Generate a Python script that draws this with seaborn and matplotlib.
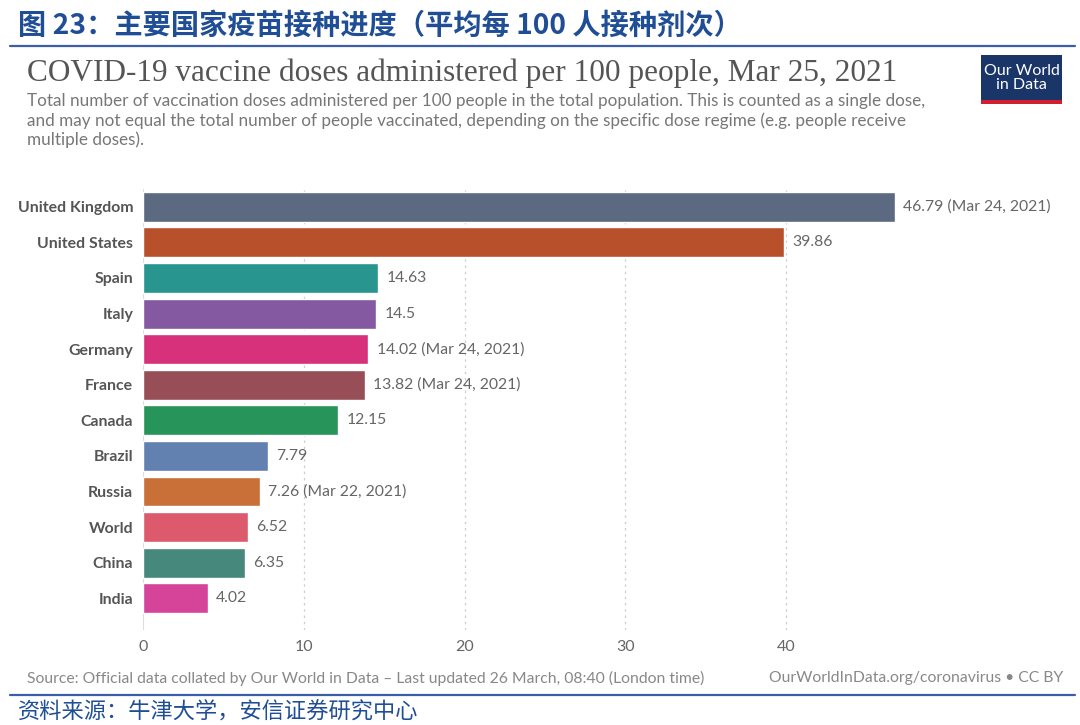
import matplotlib
matplotlib.use("Agg")
import matplotlib.pyplot as plt
import seaborn as sns
import pandas as pd
from matplotlib.patches import Rectangle
from matplotlib.lines import Line2D

countries = ["United Kingdom", "United States", "Spain", "Italy", "Germany", "France",
             "Canada", "Brazil", "Russia", "World", "China", "India"]
doses = [46.79, 39.86, 14.63, 14.5, 14.02, 13.82, 12.15, 7.79, 7.26, 6.52, 6.35, 4.02]
date_notes = ["(Mar 24, 2021)", "", "", "", "(Mar 24, 2021)", "(Mar 24, 2021)",
              "", "", "(Mar 22, 2021)", "", "", ""]
colors = ["#5b6a80", "#b9502c", "#28958f", "#8559a1", "#d6317a", "#984e56",
          "#27955a", "#6281b1", "#c96f38", "#dd5a6c", "#46887b", "#d6449a"]
x_ticks = [0, 10, 20, 30, 40]

df = pd.DataFrame({"country": countries, "doses": doses})
palette = dict(zip(countries, colors))

sns.set_theme(style="white")
plt.rcParams["font.family"] = ["Lato", "DejaVu Sans"]

fig = plt.figure(figsize=(10.8, 7.25), dpi=100)
W, H = 1080, 725
left = 143 / W
width = 160.75 * 5 / W
top_px, bot_px = 189, 630
ax = fig.add_axes([left, 1 - bot_px / H, width, (bot_px - top_px) / H])

sns.barplot(data=df, y="country", x="doses", hue="country", palette=palette,
            dodge=False, legend=False, ax=ax, width=0.84, saturation=1, orient="h")

ax.set_xlim(0, 50)
ax.set_ylim(11.89, -0.5)
for s in ax.spines.values():
    s.set_visible(False)
ax.set_xlabel("")
ax.set_ylabel("")
ax.set_xticks(x_ticks)
ax.set_xticklabels([str(t) for t in x_ticks], color="#666666", fontsize=11.5)
ax.tick_params(axis="x", length=0, pad=7)
for t in x_ticks[1:]:
    ax.axvline(t, color="#cfcfcf", lw=0.9, ls=(0, (2, 3)), zorder=0)
ax.axvline(0, color="#dddddd", lw=0.8, zorder=0)
ax.tick_params(axis="y", length=0, pad=7)
for lab in ax.get_yticklabels():
    lab.set_fontweight("bold")
    lab.set_color("#555555")
    lab.set_fontsize(11.4)

for i, (v, note) in enumerate(zip(doses, date_notes)):
    txt = f"{v:g}" + (f" {note}" if note else "")
    ax.annotate(txt, (v, i), xytext=(6, 0), textcoords="offset points",
                va="center", ha="left", fontsize=11.3, color="#666666", clip_on=False)

# Chinese header
fig.text(18 / W, 1 - 26 / H, "图 23：主要国家疫苗接种进度（平均每 100 人接种剂次）",
         fontsize=20.3, fontweight="bold", color="#1f4e96", va="center", ha="left",
         family=["Noto Sans CJK SC", "DejaVu Sans"])
fig.add_artist(Line2D([10 / W, 1075 / W], [1 - 46 / H, 1 - 46 / H], color="#3a5ea8", lw=1.6))

# chart title
fig.text(27 / W, 1 - 73 / H, "COVID-19 vaccine doses administered per 100 people, Mar 25, 2021",
         fontsize=22.5, color="#555555", va="center", ha="left", family=["Liberation Serif", "DejaVu Serif"])
subtitle = ("Total number of vaccination doses administered per 100 people in the total population. This is counted as a single dose,\n"
            "and may not equal the total number of people vaccinated, depending on the specific dose regime (e.g. people receive\n"
            "multiple doses).")
fig.text(27 / W, 1 - 93 / H, subtitle, fontsize=12.3, color="#777777", va="top", ha="left",
         linespacing=1.22)

# logo
fig.add_artist(Rectangle((981 / W, 1 - 100 / H), 81 / W, 45 / H, transform=fig.transFigure,
                         facecolor="#1a3567", edgecolor="none"))
fig.add_artist(Rectangle((981 / W, 1 - 104 / H), 81 / W, 4 / H, transform=fig.transFigure,
                         facecolor="#d21f2f", edgecolor="none"))
fig.text(1021.5 / W, 1 - 78 / H, "Our World\nin Data", fontsize=11.5, color="white",
         ha="center", va="center", linespacing=1.0)

# source line
fig.text(27 / W, 1 - 678 / H,
         "Source: Official data collated by Our World in Data – Last updated 26 March, 08:40 (London time)",
         fontsize=11.3, color="#888888", va="center", ha="left")
fig.text(1063 / W, 1 - 678 / H, "OurWorldInData.org/coronavirus • CC BY",
         fontsize=11.3, color="#888888", va="center", ha="right")
fig.add_artist(Line2D([10 / W, 1075 / W], [1 - 695 / H, 1 - 695 / H], color="#3a5ea8", lw=1.6))
fig.text(18 / W, 1 - 712 / H, "资料来源：牛津大学，安信证券研究中心", fontsize=16, color="#1f4e96",
         va="center", ha="left", style="italic", family=["Noto Sans CJK SC", "DejaVu Sans"])

fig.savefig("out.png", dpi=100)
